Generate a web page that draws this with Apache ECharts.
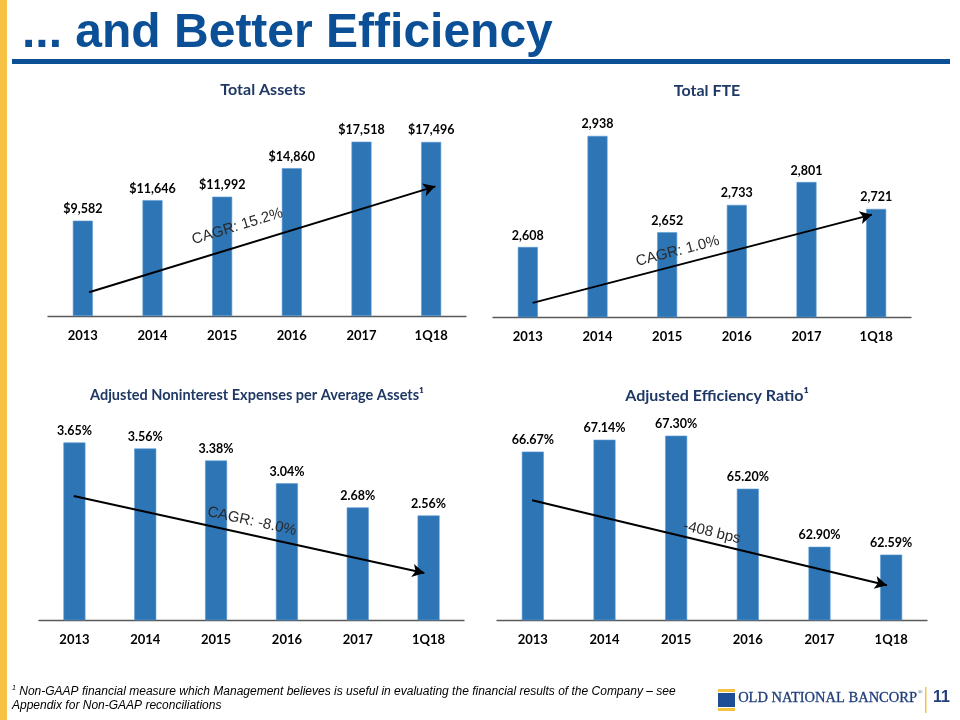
<!DOCTYPE html>
<html>
<head>
<meta charset="utf-8">
<script src="https://cdn.jsdelivr.net/npm/echarts@6/dist/echarts.min.js"></script>
<style>
html,body{margin:0;padding:0;background:#fff;}
#c{width:960px;height:720px;}
</style>
</head>
<body>
<div id="c"></div>
<script>
// ---- data ----
const categories = ['2013', '2014', '2015', '2016', '2017', '1Q18'];
const totalAssets = [9582, 11646, 11992, 14860, 17518, 17496];
const totalFte = [2608, 2938, 2652, 2733, 2801, 2721];
const nonintExpense = [3.65, 3.56, 3.38, 3.04, 2.68, 2.56];
const efficiencyRatio = [66.67, 67.14, 67.30, 65.20, 62.90, 62.59];

const chartTitles = ['Total Assets', 'Total FTE', 'Adjusted Noninterest Expenses per Average Assets\u00b9', 'Adjusted Efficiency Ratio\u00b9'];
const trendLabels = ['CAGR: 15.2%', 'CAGR: 1.0%', 'CAGR: -8.0%', '-408 bps'];

// trend arrows (annotation, in data units: [category position, value])
const trendArrows = [
  [[0.09, 2390], [5.06, 13030]],
  [[0.07, 2442], [4.94, 2704]],
  [[-0.01, 2.85], [4.94, 1.70]],
  [[-0.01, 64.74], [4.94, 61.38]]
];

const fmtMoney = v => '$' + v.toLocaleString('en-US');
const fmtInt = v => v.toLocaleString('en-US');
const fmtPct = v => v.toFixed(2) + '%';

// ---- layout ----
const grids = [
  {left: 48, width: 418, top: 117, height: 199},
  {left: 493, width: 418, top: 115, height: 202},
  {left: 39, width: 425, top: 419, height: 201},
  {left: 497, width: 430, top: 418, height: 202}
];
const yRanges = [[0, 20000], [2400, 3000], [1, 4], [60, 68]];
const seriesData = [totalAssets, totalFte, nonintExpense, efficiencyRatio];
const formatters = [fmtMoney, fmtInt, fmtPct, fmtPct];
const barWidths = [20, 20, 22, 22];
const titlePos = [{x: 258, y: 88}, {x: 702, y: 89}, {x: 252, y: 394}, {x: 712, y: 394}];
const titleSizes = [16, 16, 14.5, 16];
const trendDistance = [12, 6, 6, 3];
const trendPadRight = [40, 44, 0, 0];

const BAR = '#2E75B6';
const NAVY = '#1F3864';
const FONT = 'Lato';

const xAxes = [], yAxes = [], series = [];
grids.forEach((g, i) => {
  xAxes.push({
    type: 'category', gridIndex: i, data: categories,
    axisLine: {show: true, lineStyle: {color: '#595959', width: 1.3}},
    axisTick: {show: false},
    axisLabel: {color: '#000', fontFamily: FONT, fontWeight: 'bold', fontSize: 13, margin: 13}
  });
  xAxes.push({type: 'value', gridIndex: i, min: -0.5, max: 5.5, show: false});
  yAxes.push({type: 'value', gridIndex: i, min: yRanges[i][0], max: yRanges[i][1], show: false, splitLine: {show: false}});
  series.push({
    type: 'bar', xAxisIndex: i * 2, yAxisIndex: i, data: seriesData[i],
    barWidth: barWidths[i],
    itemStyle: {color: BAR, borderColor: '#5B9BD5', borderWidth: 0.6},
    label: {show: true, position: 'top', distance: 5, color: '#000', fontFamily: FONT, fontWeight: 'bold', fontSize: 12.5,
      formatter: p => formatters[i](p.value)}
  });
  series.push({
    type: 'line', xAxisIndex: i * 2 + 1, yAxisIndex: i, data: [], silent: true,
    markLine: {
      silent: true, symbol: ['none', 'arrow'], symbolSize: [10, 12], animation: false,
      lineStyle: {color: '#000', width: 2, type: 'solid'},
      label: {show: true, position: 'middle', formatter: trendLabels[i], color: '#2a2a2a',
        fontFamily: 'Liberation Sans, Arial', fontSize: 15, distance: trendDistance[i],
        padding: [0, trendPadRight[i], 0, 0]},
      data: [[{coord: trendArrows[i][0]}, {coord: trendArrows[i][1]}]]
    }
  });
});

const chart = echarts.init(document.getElementById('c'), null, {renderer: 'canvas'});
chart.setOption({
  animation: false,
  backgroundColor: '#fff',
  title: chartTitles.map((t, i) => ({
    text: t, left: titlePos[i].x, top: titlePos[i].y - 11, textAlign: 'center',
    textStyle: {color: NAVY, fontFamily: FONT, fontWeight: 'bold', fontSize: titleSizes[i]}
  })),
  grid: grids,
  xAxis: xAxes,
  yAxis: yAxes,
  series: series,
  graphic: [
    {type: 'rect', shape: {x: 0, y: 0, width: 7, height: 720}, style: {fill: '#F6C244'}, z: 10},
    {type: 'text', left: 22, top: 10, style: {text: '... and Better Efficiency', fill: '#0B4F96',
      font: 'bold 48px "Liberation Sans", Arial, sans-serif'}},
    {type: 'rect', shape: {x: 12, y: 59, width: 938, height: 5}, style: {fill: '#0B4F96'}},
    {type: 'text', left: 12, top: 685, style: {
      text: '{s|1} Non-GAAP financial measure which Management believes is useful in evaluating the financial results of the Company \u2013 see\nAppendix for Non-GAAP reconciliations',
      font: 'italic 12px "Liberation Sans", Arial, sans-serif', fill: '#000', lineHeight: 14,
      rich: {s: {fontSize: 7, fontStyle: 'italic', verticalAlign: 'top', lineHeight: 14, padding: [0, 0, 6, 0]}}
    }},
    // logo
    {type: 'rect', shape: {x: 718, y: 689, width: 17, height: 3}, style: {fill: '#F6C244'}},
    {type: 'rect', shape: {x: 718, y: 693, width: 17, height: 14}, style: {fill: '#1F4E96'}},
    {type: 'rect', shape: {x: 718, y: 708, width: 17, height: 3}, style: {fill: '#F6C244'}},
    {type: 'text', left: 738, top: 691, style: {text: 'OLD NATIONAL BANCORP', fill: '#1F3E7A',
      font: '14.5px "Liberation Serif", "DejaVu Serif", serif', stroke: '#1F3E7A', lineWidth: 0.3}},
    {type: 'text', left: 918, top: 689, style: {text: '\u00ae', fill: '#1F3E7A', font: '6px "Liberation Serif", serif'}},
    {type: 'rect', shape: {x: 925, y: 687, width: 1.5, height: 26}, style: {fill: '#F6C244'}},
    {type: 'text', left: 933, top: 690, style: {text: '11', fill: '#1F3E7A', font: 'bold 16px "Liberation Sans", Arial, sans-serif'}}
  ]
});
</script>
</body>
</html>
